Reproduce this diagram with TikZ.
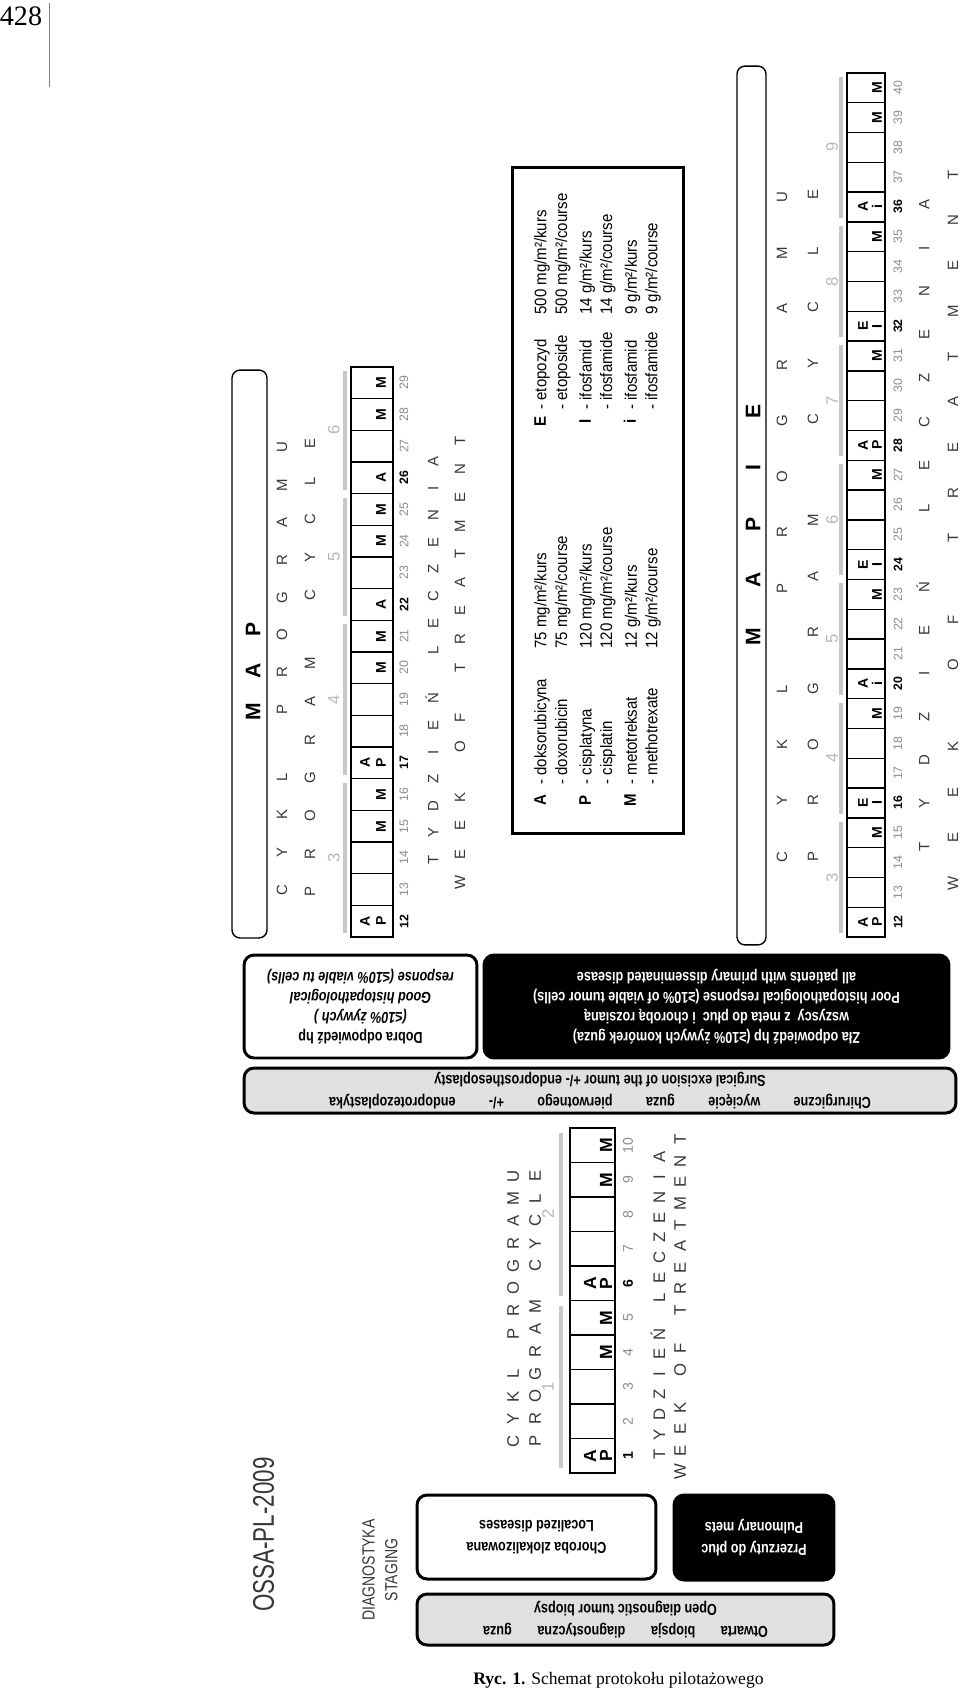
\documentclass[tikz,border=0pt]{standalone}
\usepackage{fontspec}
\setmainfont{Liberation Serif}
\setsansfont{Liberation Sans}
\newfontfamily\narrowsf[FakeStretch=0.8]{Liberation Sans}
\newfontfamily\legendsf[FakeStretch=0.9]{Liberation Sans}
\newfontfamily\ossasf[FakeStretch=0.75]{Liberation Sans}

% evenly spaced capitals, "/" gives a word gap
\newlength\spreadw
\newcommand\spread[2]{\setlength\spreadw{#1}\spreadloop#2\relax}
\def\spreadloop#1{\ifx#1\relax\else\ifx#1/\hspace*{0.8\spreadw}\else\makebox[\spreadw]{#1}\fi\expandafter\spreadloop\fi}

\begin{document}
\begin{tikzpicture}[x=0.02cm, y=-0.02cm]
	% Define colors
	\definecolor{cycbar}{RGB}{200, 200, 200}
	\definecolor{cycnum}{RGB}{185, 185, 185}
	\definecolor{weeknum}{RGB}{140, 140, 140}
	\definecolor{labelink}{RGB}{55, 55, 55}
	\definecolor{stepgray}{RGB}{224, 224, 224}

	% Styles
	\tikzstyle{caps_line} = [rotate=90, anchor=west, inner sep=0pt, text=labelink, font=\sffamily]
	\tikzstyle{cell_line} = [draw=black, line width=0.8pt]
	\tikzstyle{table_edge} = [draw=black, line width=1.3pt]
	\tikzstyle{drug_mark} = [rotate=90, inner sep=0pt, font=\sffamily\bfseries]
	\tikzstyle{week_plain} = [rotate=90, inner sep=0pt, text=weeknum, font=\sffamily]
	\tikzstyle{week_bold} = [rotate=90, inner sep=0pt, text=black, font=\sffamily\bfseries]
	\tikzstyle{cycle_bar} = [draw=cycbar, line width=2.6pt]
	\tikzstyle{cycle_num} = [rotate=90, inner sep=0pt, text=cycnum, font=\sffamily\fontsize{9.5}{9.5}\selectfont]
	\tikzstyle{regimen_box} = [draw=black, line width=0.8pt, rounded corners=0.16cm, fill=white]
	\tikzstyle{step_box} = [draw=black, line width=1.7pt, rounded corners=0.2cm, align=center, inner sep=0pt, rotate=180]
	\tikzstyle{legend_col} = [rotate=90, anchor=north west, inner sep=0pt, align=left, font=\legendsf\fontsize{9.5}{11.7}\selectfont]

	\path[use as bounding box, fill=white] (0,0) rectangle (960,1691);

	% Page number
	\node[inner sep=0pt, font=\fontsize{16}{16}\selectfont] (pageno) at (21,16) {428};
	\draw[gray, line width=0.4pt] (49,3) -- (49,87);

	% Title and staging
	\node[rotate=90, inner sep=0pt, text=labelink, font=\ossasf\fontsize{17}{17}\selectfont] (ossa) at (263.5,1534.5) {OSSA-PL-2009};
	\node[rotate=90, inner sep=0pt, align=center, text=labelink, font=\narrowsf\fontsize{10}{13}\selectfont] (staging) at (380,1570) {DIAGNOSTYKA\\STAGING};

	% Flow boxes (printed upside down)
	\node[step_box, fill=stepgray, minimum width=8.34cm, minimum height=1.02cm, font=\narrowsf\bfseries\fontsize{9}{12.5}\selectfont] (biopsy) at (625.5,1619.5) {\makebox[5.7cm][s]{Otwarta biopsja diagnostyczna guza}\\Open diagnostic tumor biopsy};
	\node[step_box, fill=white, minimum width=4.78cm, minimum height=1.68cm, font=\narrowsf\bfseries\fontsize{9}{12.5}\selectfont] (localized) at (536.5,1537) {Choroba zlokalizowana\\Localized diseases};
	\node[step_box, fill=black, text=white, minimum width=3.2cm, minimum height=1.7cm, font=\narrowsf\bfseries\fontsize{9}{12.5}\selectfont] (mets) at (754,1537.5) {Przerzuty do płuc\\Pulmonary mets};
	\node[step_box, fill=stepgray, minimum width=14.24cm, minimum height=0.9cm, font=\narrowsf\bfseries\fontsize{9}{12}\selectfont] (surgery) at (600,1090.5) {\makebox[10.84cm][s]{Chirurgiczne wycięcie guza pierwotnego +/- endoprotezoplastyka}\\Surgical excision of the tumor +/- endoprosthesoplasty};
	\node[step_box, fill=white, minimum width=4.66cm, minimum height=2.06cm, font=\narrowsf\bfseries\fontsize{9}{11.4}\selectfont] (goodresp) at (360.5,1006.5) {Dobra odpowiedź hp\\\textit{(≤10\% żywych )}\\\textit{Good histopathological}\\\textit{response (≤10\% viable tu cells)}};
	\node[step_box, fill=black, text=white, minimum width=9.3cm, minimum height=2.06cm, font=\narrowsf\bfseries\fontsize{9}{11.4}\selectfont] (poorresp) at (716.5,1006.5) {Zła odpowiedź hp (≥10\% żywych komórek guza)\\wszyscy \ z meta do płuc \ i chorobą rozsianą\\Poor histopathological response (≥10\% of viable tumor cells)\\all patients with primary disseminated disease};

	% Cycles 1-2, weeks 1-10
	\def\aLeft{570} \def\aRight{615} \def\aBase{1473} \def\aStep{34.5}
	\def\numsize{\fontsize{8}{8}\selectfont}
	\def\marksize{\fontsize{10}{10}\selectfont}
	\foreach \w/\p/\q/\s in {1/A/P/week_bold, 2///week_plain, 3///week_plain, 4//M/week_plain, 5//M/week_plain,
		6/A/P/week_bold, 7///week_plain, 8///week_plain, 9//M/week_plain, 10//M/week_plain}{
		\pgfmathsetmacro{\yc}{\aBase-(\w-0.5)*\aStep}
		\draw[cell_line] (\aLeft,\yc-\aStep/2) rectangle (\aRight,\yc+\aStep/2);
		\node[drug_mark] (aP\w) at (590,\yc) {\marksize\p};
		\node[drug_mark] (aQ\w) at (606,\yc) {\marksize\q};
		\node[\s] (aN\w) at (628,\yc) {\numsize\w};
	}
	\draw[table_edge] (\aLeft,\aBase-10*\aStep) rectangle (\aRight,\aBase);
	\foreach \c/\f/\l in {1/1/5, 2/6/10}{
		\draw[cycle_bar] (561,{\aBase-(\f-1)*\aStep-5}) -- (561,{\aBase-\l*\aStep+5});
		\node[cycle_num] (aC\c) at (548,{\aBase-((\f+\l)/2-0.5)*\aStep}) {\c};
	}
	\node[caps_line] (aHeadPl) at (513,1453) {\fontsize{9.5}{9.5}\selectfont\spread{0.45cm}{CYKL/PROGRAMU}};
	\node[caps_line] (aHeadEn) at (535,1453) {\fontsize{9.5}{9.5}\selectfont\spread{0.45cm}{PROGRAM/CYCLE}};
	\node[caps_line] (aFootPl) at (658,1465) {\fontsize{9.5}{9.5}\selectfont\spread{0.402cm}{TYDZIEŃ/LECZENIA}};
	\node[caps_line] (aFootEn) at (680,1483) {\fontsize{9.5}{9.5}\selectfont\spread{0.426cm}{WEEK/OF/TREATMENT}};

	% MAP, weeks 12-29
	\node[regimen_box, minimum width=0.7cm, minimum height=11.36cm] (mapbox) at (249.5,654) {};
	\node[caps_line, text=black] (maptitle) at (253,732.5) {\bfseries\fontsize{12}{12}\selectfont\spread{0.82cm}{MAP}};
	\def\bLeft{351} \def\bRight{393} \def\bBase{937} \def\bStep{31.67}
	\def\numsize{\fontsize{7}{7}\selectfont}
	\def\marksize{\fontsize{8}{8}\selectfont}
	\foreach \w/\p/\q/\s in {12/A/P/week_bold, 13///week_plain, 14///week_plain, 15//M/week_plain, 16//M/week_plain,
		17/A/P/week_bold, 18///week_plain, 19///week_plain, 20//M/week_plain, 21//M/week_plain,
		22//A/week_bold, 23///week_plain, 24//M/week_plain, 25//M/week_plain,
		26//A/week_bold, 27///week_plain, 28//M/week_plain, 29//M/week_plain}{
		\pgfmathsetmacro{\yc}{\bBase-(\w-11.5)*\bStep}
		\draw[cell_line] (\bLeft,\yc-\bStep/2) rectangle (\bRight,\yc+\bStep/2);
		\node[drug_mark] (bP\w) at (365,\yc) {\marksize\p};
		\node[drug_mark] (bQ\w) at (381,\yc) {\marksize\q};
		\node[\s] (bN\w) at (404,\yc) {\numsize\w};
	}
	\draw[table_edge] (\bLeft,\bBase-18*\bStep) rectangle (\bRight,\bBase);
	\foreach \c/\f/\l in {3/12/16, 4/17/21, 5/22/25, 6/26/29}{
		\draw[cycle_bar] (345,{\bBase-(\f-12)*\bStep-4}) -- (345,{\bBase-(\l-11)*\bStep+4});
		\node[cycle_num] (bC\c) at (334,{\bBase-((\f+\l)/2-11.5)*\bStep}) {\c};
	}
	\node[caps_line] (bHeadPl) at (282,909) {\fontsize{8.5}{8.5}\selectfont\spread{0.75cm}{CYKL/PROGRAMU}};
	\node[caps_line] (bHeadEn) at (310,911) {\fontsize{8.5}{8.5}\selectfont\spread{0.76cm}{PROGRAM/CYCLE}};
	\node[caps_line] (bFootPl) at (432,873.5) {\fontsize{8.5}{8.5}\selectfont\spread{0.538cm}{TYDZIEŃ/LECZENIA}};
	\node[caps_line] (bFootEn) at (460,897) {\fontsize{8.5}{8.5}\selectfont\spread{0.566cm}{WEEK/OF/TREATMENT}};

	% Drug legend
	\node[draw=black, line width=1.7pt, minimum width=3.44cm, minimum height=13.34cm] (legend) at (598,500.5) {};
	\node[legend_col, anchor=north, align=center, font=\legendsf\bfseries\fontsize{9.5}{11.7}\selectfont] (legLetA) at (534,800) {A\\[13.9pt]P\\[13.9pt]M};
	\node[legend_col] (legNameA) at (534,785) {- doksorubicyna\\- doxorubicin\\[2.3pt]- cisplatyna\\- cisplatin\\[2.3pt]- metotreksat\\- methotrexate};
	\node[legend_col] (legDoseA) at (534,649) {75 mg/m²/kurs\\75 mg/m²/course\\[2.3pt]120 mg/m²/kurs\\120 mg/m²/course\\[2.3pt]12 g/m²/kurs\\12 g/m²/course};
	\node[legend_col, anchor=north, align=center, font=\legendsf\bfseries\fontsize{9.5}{11.7}\selectfont] (legLetE) at (534,421) {E\\[13.9pt]I\\[13.9pt]i};
	\node[legend_col] (legNameE) at (534,410) {- etopozyd\\- etoposide\\[2.3pt]- ifosfamid\\- ifosfamide\\[2.3pt]- ifosfamid\\- ifosfamide};
	\node[legend_col] (legDoseE) at (534,315) {500 mg/m²/kurs\\500 mg/m²/course\\[2.3pt]14 g/m²/kurs\\14 g/m²/course\\[2.3pt]9 g/m²/kurs\\9 g/m²/course};

	% MAPIE, weeks 12-40
	\node[regimen_box, minimum width=0.58cm, minimum height=17.58cm] (mapiebox) at (751.5,505.5) {};
	\node[caps_line, text=black] (mapietitle) at (753,665) {\bfseries\fontsize{12}{12}\selectfont\spread{1.125cm}{MAPIE}};
	\def\cLeft{847} \def\cRight{885} \def\cBase{937} \def\cStep{29.8}
	\foreach \w/\p/\q/\s in {12/A/P/week_bold, 13///week_plain, 14///week_plain, 15//M/week_plain,
		16/E/I/week_bold, 17///week_plain, 18///week_plain, 19//M/week_plain,
		20/A/i/week_bold, 21///week_plain, 22///week_plain, 23//M/week_plain,
		24/E/I/week_bold, 25///week_plain, 26///week_plain, 27//M/week_plain,
		28/A/P/week_bold, 29///week_plain, 30///week_plain, 31//M/week_plain,
		32/E/I/week_bold, 33///week_plain, 34///week_plain, 35//M/week_plain,
		36/A/i/week_bold, 37///week_plain, 38///week_plain, 39//M/week_plain, 40//M/week_plain}{
		\pgfmathsetmacro{\yc}{\cBase-(\w-11.5)*\cStep}
		\draw[cell_line] (\cLeft,\yc-\cStep/2) rectangle (\cRight,\yc+\cStep/2);
		\node[drug_mark] (cP\w) at (863,\yc) {\marksize\p};
		\node[drug_mark] (cQ\w) at (877,\yc) {\marksize\q};
		\node[\s] (cN\w) at (898,\yc) {\numsize\w};
	}
	\draw[table_edge] (\cLeft,\cBase-29*\cStep) rectangle (\cRight,\cBase);
	\foreach \c/\f/\l in {3/12/15, 4/16/19, 5/20/23, 6/24/27, 7/28/31, 8/32/35, 9/36/40}{
		\draw[cycle_bar] (841,{\cBase-(\f-12)*\cStep-4}) -- (841,{\cBase-(\l-11)*\cStep+4});
		\node[cycle_num] (cC\c) at (832,{\cBase-((\f+\l)/2-11.5)*\cStep}) {\c};
	}
	\node[caps_line] (cHeadPl) at (782,885) {\fontsize{8.5}{8.5}\selectfont\spread{1.118cm}{CYKL/PROGRAMU}};
	\node[caps_line] (cHeadEn) at (813,885) {\fontsize{8.5}{8.5}\selectfont\spread{1.122cm}{PROGRAM/CYCLE}};
	\node[caps_line] (cFootPl) at (923,869) {\fontsize{8.5}{8.5}\selectfont\spread{0.868cm}{TYDZIEŃ/LECZENIA}};
	\node[caps_line] (cFootEn) at (953,906) {\fontsize{8.5}{8.5}\selectfont\spread{0.908cm}{WEEK/OF/TREATMENT}};

	% Caption
	\node[anchor=west, inner sep=0pt, font=\fontsize{10}{10}\selectfont] (caption) at (473,1680) {\textbf{Ryc. 1.} Schemat protokołu pilotażowego};
\end{tikzpicture}
\end{document}
